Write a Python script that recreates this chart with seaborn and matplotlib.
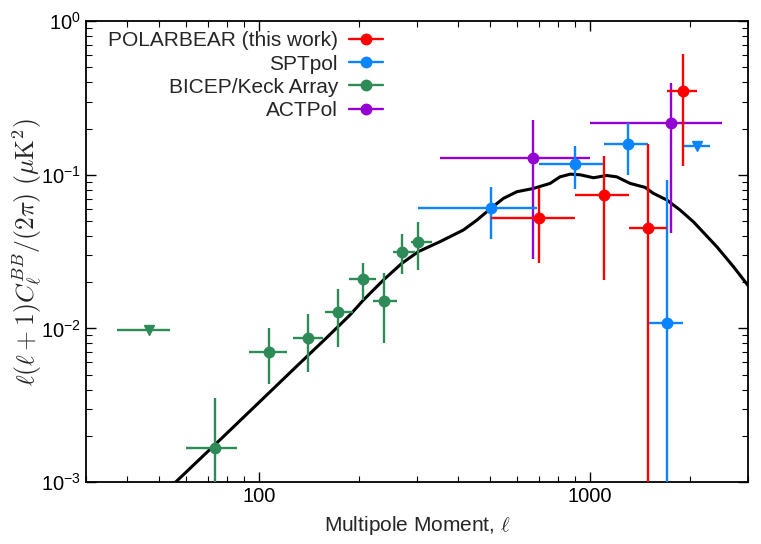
import numpy as np
import matplotlib
matplotlib.use("Agg")
import matplotlib.pyplot as plt
from matplotlib.lines import Line2D
import seaborn as sns
from matplotlib.ticker import FixedLocator, FixedFormatter, LogLocator, NullFormatter

# POLARBEAR (this work)
pb_ell = [703, 1102, 1500, 1905]
pb_lo = [501, 901, 1306, 1706]
pb_hi = [901, 1306, 1706, 2099]
pb_cl = [0.0525, 0.0738, 0.0448, 0.352]
pb_cl_lo = [0.0265, 0.0207, 1e-4, 0.114]
pb_cl_hi = [0.0815, 0.1324, 0.158, 0.610]

# SPTpol
spt_ell = [501, 901, 1300, 1706]
spt_lo = [301, 703, 1102, 1510]
spt_hi = [693, 1097, 1500, 1905]
spt_cl = [0.0604, 0.1174, 0.1584, 0.0108]
spt_cl_lo = [0.038, 0.0803, 0.0995, 1e-4]
spt_cl_hi = [0.0828, 0.1544, 0.218, 0.0924]
spt_ul_ell = [2099]
spt_ul_lo = [1915]
spt_ul_hi = [2306]
spt_ul_cl = [0.155]

# BICEP/Keck Array
bk_ell = [73.6, 107.2, 140.9, 173.7, 205.6, 237.7, 269.8, 302.7]
bk_lo = [60.3, 93.5, 126.4, 158.3, 187.5, 221.3, 254.6, 287]
bk_hi = [85.9, 121.2, 155.7, 191.9, 225.4, 261.8, 296, 332]
bk_cl = [0.00166, 0.00699, 0.0087, 0.01285, 0.02086, 0.0151, 0.0316, 0.0363]
bk_cl_lo = [1e-4, 0.00435, 0.00523, 0.0076, 0.0153, 0.0080, 0.0226, 0.024]
bk_cl_hi = [0.00351, 0.0100, 0.0124, 0.01795, 0.0267, 0.0228, 0.0411, 0.0494]
bk_ul_ell = [46.5]
bk_ul_lo = [37.2]
bk_ul_hi = [53.8]
bk_ul_cl = [0.0097]

# ACTPol
act_ell = [674, 1754]
act_lo = [351, 1000]
act_hi = [1000, 2500]
act_cl = [0.128, 0.219]
act_cl_lo = [0.0281, 0.042]
act_cl_hi = [0.227, 0.397]

# lensing BB theory curve
th_ell = [50, 56, 75, 100, 130, 160, 188, 206.6, 237.7, 269.8, 302.7, 352, 414,
          455, 501, 547, 601, 674, 757, 811, 871, 933, 1024, 1122, 1203, 1321,
          1466, 1553, 1706, 1871, 2052, 2414, 2711, 3006]
th_cl = [0.00077, 0.0010, 0.00182, 0.0033, 0.00568, 0.0087, 0.0122, 0.0153, 0.0207,
         0.0265, 0.0316, 0.0367, 0.0437, 0.0507, 0.0604, 0.0702, 0.0776, 0.0815,
         0.0879, 0.097, 0.101, 0.100, 0.0957, 0.099, 0.097, 0.0879, 0.0828,
         0.0757, 0.0685, 0.0589, 0.0494, 0.034, 0.0252, 0.0189]

c_pb = "#ff0000"
c_spt = "#0a84ff"
c_bk = "#2e8b57"
c_act = "#9400d3"

sns.set_theme(style="ticks")
plt.rcParams["font.family"] = ["Liberation Sans", "DejaVu Sans"]
plt.rcParams["mathtext.fontset"] = "cm"

fig = plt.figure(figsize=(7.61, 5.44), dpi=100)
ax = fig.add_axes([0.113, 0.114, 0.870, 0.847])

sns.lineplot(x=th_ell, y=th_cl, color="black", lw=2.2, ax=ax, zorder=2, sort=False)


def draw(ell, lo, hi, cl, cl_lo, cl_hi, color):
    ell = np.array(ell)
    cl = np.array(cl)
    xerr = [ell - np.array(lo), np.array(hi) - ell]
    yerr = [cl - np.array(cl_lo), np.array(cl_hi) - cl]
    ax.errorbar(ell, cl, xerr=xerr, yerr=yerr, fmt="o", color=color, ms=7.5,
                elinewidth=1.7, capsize=0, zorder=3)


def draw_ul(ell, lo, hi, cl, color):
    ell = np.array(ell)
    xerr = [ell - np.array(lo), np.array(hi) - ell]
    ax.errorbar(ell, cl, xerr=xerr, fmt="v", color=color, ms=6.5,
                elinewidth=1.7, capsize=0, zorder=3)


draw(bk_ell, bk_lo, bk_hi, bk_cl, bk_cl_lo, bk_cl_hi, c_bk)
draw_ul(bk_ul_ell, bk_ul_lo, bk_ul_hi, bk_ul_cl, c_bk)
draw(act_ell, act_lo, act_hi, act_cl, act_cl_lo, act_cl_hi, c_act)
draw(spt_ell, spt_lo, spt_hi, spt_cl, spt_cl_lo, spt_cl_hi, c_spt)
draw_ul(spt_ul_ell, spt_ul_lo, spt_ul_hi, spt_ul_cl, c_spt)
draw(pb_ell, pb_lo, pb_hi, pb_cl, pb_cl_lo, pb_cl_hi, c_pb)

ax.set_xscale("log")
ax.set_yscale("log")
ax.set_xlim(30, 3000)
ax.set_ylim(1e-3, 1)

ax.xaxis.set_major_locator(FixedLocator([100, 1000]))
ax.xaxis.set_major_formatter(FixedFormatter(["100", "1000"]))
ax.xaxis.set_minor_locator(LogLocator(base=10, subs=np.arange(2, 10)))
ax.xaxis.set_minor_formatter(NullFormatter())
ax.yaxis.set_major_locator(FixedLocator([1e-3, 1e-2, 1e-1, 1]))
ax.yaxis.set_major_formatter(FixedFormatter([r"$\mathregular{10^{-3}}$", r"$\mathregular{10^{-2}}$",
                                             r"$\mathregular{10^{-1}}$", r"$\mathregular{10^{0}}$"]))
ax.yaxis.set_minor_locator(LogLocator(base=10, subs=np.arange(2, 10)))
ax.yaxis.set_minor_formatter(NullFormatter())

ax.tick_params(which="both", direction="in", top=True, right=True, colors="black",
               labelsize=14.5)
ax.tick_params(which="major", length=7, width=1)
ax.tick_params(which="minor", length=4, width=0.8)
for s in ax.spines.values():
    s.set_linewidth(1.3)
    s.set_color("black")

ax.set_xlabel(r"Multipole Moment, $\ell$", fontsize=15, labelpad=6)
ax.set_ylabel(r"$\ell(\ell+1)C_\ell^{BB}/(2\pi)\ (\mu{\rm K}^2)$", fontsize=18.5, labelpad=-2)

labels = ["POLARBEAR (this work)", "SPTpol", "BICEP/Keck Array", "ACTPol"]
colors = [c_pb, c_spt, c_bk, c_act]
handles = [Line2D([], [], color=c, marker="o", ms=7.5, lw=1.7) for c in colors]
ax.legend(handles, labels, loc="upper right", bbox_to_anchor=(0.467, 1.005),
          frameon=False, markerfirst=False, fontsize=15, handlelength=1.6,
          labelspacing=0.2, handletextpad=0.55, borderaxespad=0.2, borderpad=0.4)

fig.savefig("out.png", dpi=100)
